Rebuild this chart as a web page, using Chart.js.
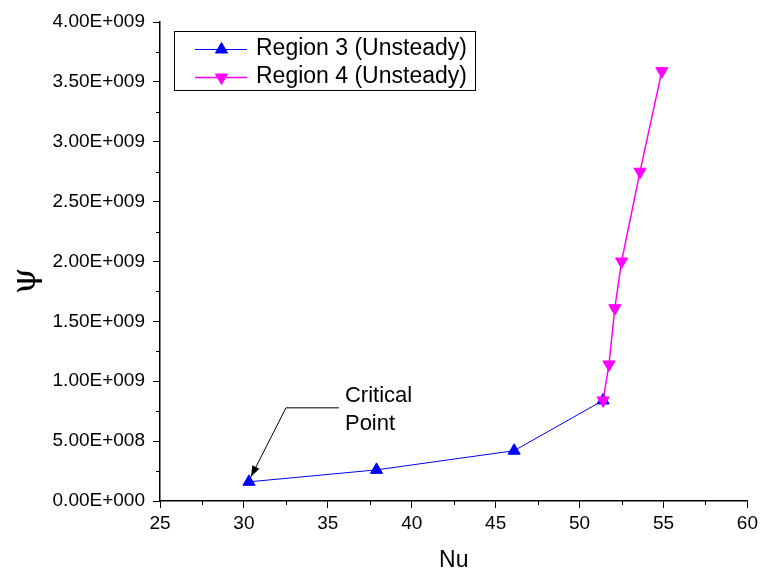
<!DOCTYPE html>
<html>
<head>
<meta charset="utf-8">
<script src="https://cdn.jsdelivr.net/npm/chart.js@4/dist/chart.umd.min.js"></script>
<style>
  html, body { margin: 0; padding: 0; background: #fff; }
  #wrap { width: 762px; height: 575px; }
</style>
</head>
<body>
<div id="wrap"><canvas id="c" width="762" height="575"></canvas></div>
<script>
// Nusselt number vs. psi for the two unsteady regions
const region3Nu  = [30.3, 37.9, 46.1, 51.4];
const region3Psi = [1.6e8, 2.6e8, 4.2e8, 8.4e8];
const region4Nu  = [51.4, 51.75, 52.1, 52.5, 53.6, 54.9];
const region4Psi = [8.4e8, 1.14e9, 1.61e9, 2.0e9, 2.75e9, 3.59e9];

const seriesLabels = ['Region 3 (Unsteady)', 'Region 4 (Unsteady)'];
const xTitle = 'Nu';
const yTitle = 'ψ';
const noteLines = ['Critical', 'Point'];

const xMin = 25, xMax = 60, xMajor = 5, xMinor = 2.5;
const yMin = 0, yMax = 4e9, yMajor = 5e8, yMinor = 2.5e8;

const FONT = "'Liberation Sans', Arial, sans-serif";

function pairs(xs, ys) { return xs.map((x, i) => ({ x: x, y: ys[i] })); }

function sci(v) {
  // e.g. 4.00E+009
  const s = Number(v).toExponential(2);
  const [m, e] = s.split('e');
  const sign = e[0] === '-' ? '-' : '+';
  const digits = e.replace(/[+-]/, '').padStart(3, '0');
  return m + 'E' + sign + digits;
}

function isMult(v, step) {
  const r = v / step;
  return Math.abs(r - Math.round(r)) < 1e-6;
}

// short minor ticks, y title, legend box and the critical-point note
const decorations = {
  id: 'decorations',
  afterDraw(chart) {
    const ctx = chart.ctx;
    const xs = chart.scales.x, ys = chart.scales.y;
    const area = chart.chartArea;
    ctx.save();

    // minor ticks
    ctx.strokeStyle = '#000';
    ctx.lineWidth = 1;
    ctx.beginPath();
    for (let v = xMin; v <= xMax + 1e-9; v += xMinor) {
      if (isMult(v, xMajor)) continue;
      const px = Math.round(xs.getPixelForValue(v)) + 0.5;
      ctx.moveTo(px, area.bottom);
      ctx.lineTo(px, area.bottom + 4);
    }
    for (let v = yMin; v <= yMax + 1; v += yMinor) {
      if (isMult(v, yMajor)) continue;
      const py = Math.round(ys.getPixelForValue(v)) + 0.5;
      ctx.moveTo(area.left, py);
      ctx.lineTo(area.left - 4, py);
    }
    ctx.stroke();

    // y axis title (rotated)
    ctx.save();
    ctx.translate(26, 281);
    ctx.rotate(-Math.PI / 2);
    ctx.fillStyle = '#000';
    ctx.font = "34px 'DejaVu Serif', 'Liberation Serif', serif";
    ctx.textAlign = 'center';
    ctx.textBaseline = 'middle';
    ctx.fillText(yTitle, 0, 0);
    ctx.restore();

    // legend
    const lx = 174.5, ly = 31.5, lw = 301, lh = 59;
    ctx.strokeStyle = '#000';
    ctx.lineWidth = 1;
    ctx.strokeRect(lx, ly, lw, lh);
    const rows = [49.5, 77.5];
    chart.data.datasets.forEach((ds, i) => {
      const y = rows[i];
      ctx.strokeStyle = ds.borderColor;
      ctx.fillStyle = ds.backgroundColor;
      ctx.lineWidth = ds.borderWidth;
      ctx.beginPath();
      ctx.moveTo(195, y);
      ctx.lineTo(247, y);
      ctx.stroke();
      ctx.lineWidth = 1;
      Chart.helpers.drawPoint(ctx, {
        pointStyle: 'triangle',
        radius: ds.pointRadius,
        rotation: ds.pointRotation,
        borderWidth: 1
      }, 221.5, y);
      ctx.fillStyle = '#000';
      ctx.font = '23px ' + FONT;
      ctx.textBaseline = 'middle';
      ctx.textAlign = 'left';
      ctx.fillText(ds.label, 256, y - 1);
    });

    // critical point note with arrow
    const meta = chart.getDatasetMeta(0);
    const p = meta.data[0];
    const tipX = p.x + 2, tipY = p.y - 5;
    const elbowX = p.x + 37, elbowY = p.y - 74;
    const endX = p.x + 90;
    ctx.strokeStyle = '#000';
    ctx.fillStyle = '#000';
    ctx.lineWidth = 1;
    ctx.beginPath();
    ctx.moveTo(endX, elbowY);
    ctx.lineTo(elbowX, elbowY);
    ctx.lineTo(tipX, tipY);
    ctx.stroke();
    const ang = Math.atan2(tipY - elbowY, tipX - elbowX);
    const ahL = 11, ahW = 4;
    ctx.beginPath();
    ctx.moveTo(tipX, tipY);
    ctx.lineTo(tipX - ahL * Math.cos(ang) + ahW * Math.sin(ang), tipY - ahL * Math.sin(ang) - ahW * Math.cos(ang));
    ctx.lineTo(tipX - ahL * Math.cos(ang) - ahW * Math.sin(ang), tipY - ahL * Math.sin(ang) + ahW * Math.cos(ang));
    ctx.closePath();
    ctx.fill();

    ctx.font = '22px ' + FONT;
    ctx.textAlign = 'left';
    ctx.textBaseline = 'alphabetic';
    ctx.fillText(noteLines[0], p.x + 96, p.y - 80);
    ctx.fillText(noteLines[1], p.x + 96, p.y - 52);

    ctx.restore();
  }
};

new Chart(document.getElementById('c'), {
  type: 'line',
  data: {
    datasets: [
      {
        label: seriesLabels[0],
        data: pairs(region3Nu, region3Psi),
        borderColor: '#0000FF',
        backgroundColor: '#0000FF',
        borderWidth: 1,
        pointStyle: 'triangle',
        pointRadius: 7,
        pointRotation: 0,
        pointBorderWidth: 1,
        tension: 0,
        order: 1
      },
      {
        label: seriesLabels[1],
        data: pairs(region4Nu, region4Psi),
        borderColor: '#FF00FF',
        backgroundColor: '#FF00FF',
        borderWidth: 1.5,
        pointStyle: 'triangle',
        pointRadius: 7,
        pointRotation: 180,
        pointBorderWidth: 1,
        tension: 0,
        order: 0
      }
    ]
  },
  options: {
    responsive: false,
    animation: false,
    events: [],
    layout: { padding: { top: 22, right: 14, left: 0, bottom: 0 } },
    plugins: {
      legend: { display: false },
      tooltip: { enabled: false },
      title: { display: false }
    },
    scales: {
      x: {
        type: 'linear',
        min: xMin, max: xMax,
        afterFit(scale) { scale.height = 74; },
        border: { display: true, color: '#000', width: 1.5 },
        grid: {
          display: true,
          drawOnChartArea: false,
          drawTicks: true,
          tickLength: 7,
          tickWidth: 1,
          tickColor: c => (c.tick && isMult(c.tick.value, xMajor)) ? '#000' : 'rgba(0,0,0,0)'
        },
        ticks: {
          stepSize: xMinor,
          autoSkip: false,
          maxRotation: 0,
          padding: 4,
          color: '#000',
          font: { family: FONT, size: 19 },
          callback: v => isMult(v, xMajor) ? String(v) : ''
        },
        title: {
          display: true,
          text: xTitle,
          color: '#000',
          font: { family: FONT, size: 23 },
          padding: { top: 0, bottom: 1 }
        }
      },
      y: {
        type: 'linear',
        min: yMin, max: yMax,
        afterFit(scale) { scale.width = 160; },
        border: { display: true, color: '#000', width: 1.5 },
        grid: {
          display: true,
          drawOnChartArea: false,
          drawTicks: true,
          tickLength: 7,
          tickWidth: 1,
          tickColor: c => (c.tick && isMult(c.tick.value, yMajor)) ? '#000' : 'rgba(0,0,0,0)'
        },
        ticks: {
          stepSize: yMinor,
          autoSkip: false,
          padding: 8,
          color: '#000',
          font: { family: FONT, size: 19 },
          callback: v => isMult(v, yMajor) ? sci(v) : ''
        },
        title: { display: false }
      }
    }
  },
  plugins: [decorations]
});
</script>
</body>
</html>
